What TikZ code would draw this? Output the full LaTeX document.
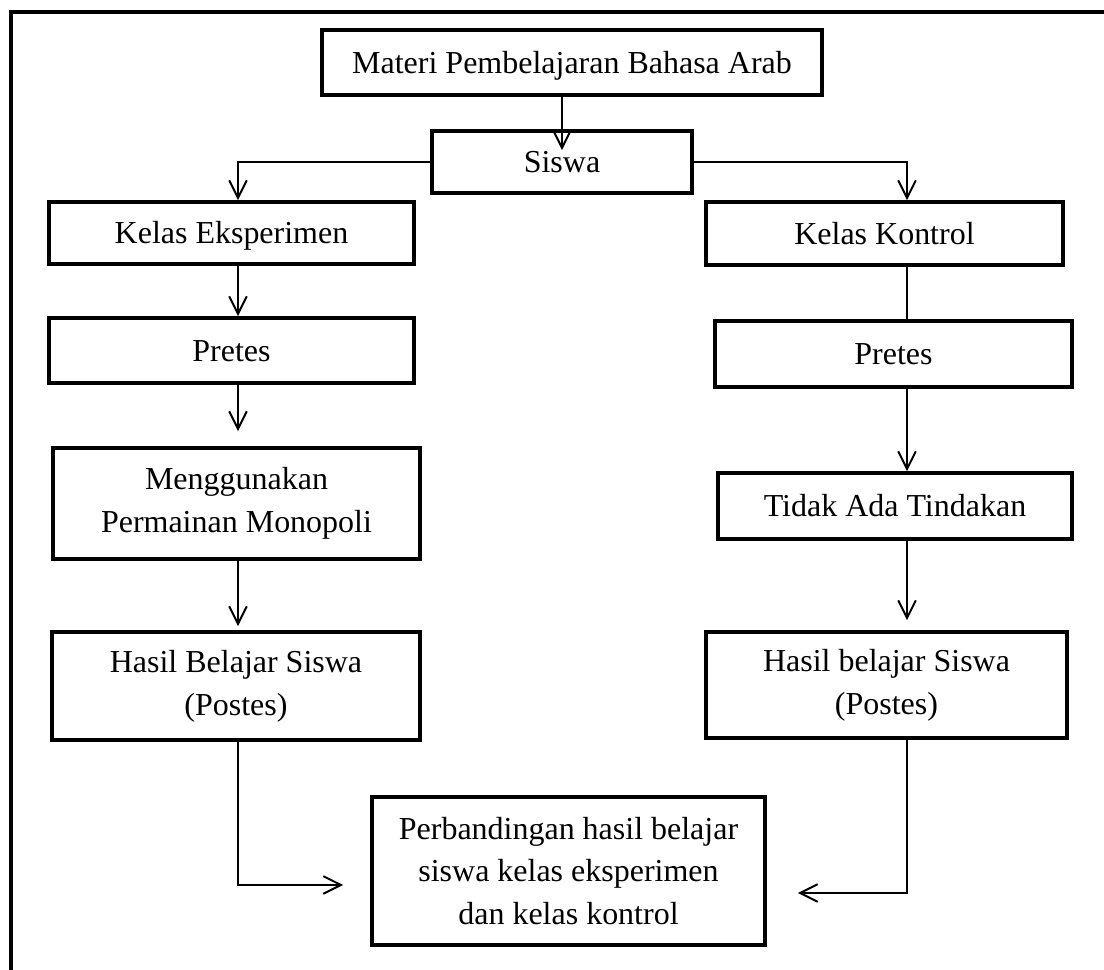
\documentclass[tikz,border=0pt]{standalone}
\usepackage{fontspec}
\setmainfont{Liberation Serif}
\usetikzlibrary{arrows.meta,calc,positioning}

\tikzset{
  kotak/.style={draw, line width=2.2pt, align=center, inner sep=0pt,
    font=\fontsize{18.2}{24.3}\selectfont},
  satu/.style={kotak, text height=12pt, text depth=0pt},
  garis/.style={line width=1.1pt},
  panah/.style={garis, -{Straight Barb[length=10pt,width=10pt,line width=1.1pt]}},
}

\begin{document}
\begin{tikzpicture}

       \useasboundingbox (0,0) rectangle (22.08,19.4);

       % bingkai luar
       \draw[line width=2.6pt] (22.4,19.16) -- (0.22,19.16) -- (0.22,-0.3);

       % jalur kiri dan kanan
       \coordinate (jalurKiri)  at ( 4.76, 0);
       \coordinate (jalurKanan) at (18.14, 0);

       % kotak-kotak
       \node[satu, minimum width=10cm,   minimum height=1.3cm]  (materi)     at (11.44,18.15) {Materi Pembelajaran Bahasa Arab};
       \node[satu, minimum width=5.2cm,  minimum height=1.24cm] (siswa)      at (11.24,16.16) {Siswa};
       \node[satu, minimum width=7.3cm,  minimum height=1.24cm] (eksperimen) at ( 4.63,14.74) {Kelas Eksperimen};
       \node[satu, minimum width=7.14cm, minimum height=1.26cm] (kontrol)    at (17.69,14.73) {Kelas Kontrol};
       \node[satu, minimum width=7.3cm,  minimum height=1.3cm]  (pretesA)    at ( 4.63,12.39) {Pretes};
       \node[satu, minimum width=7.14cm, minimum height=1.32cm] (pretesB)    at (17.87,12.32) {Pretes};
       \node[kotak, minimum width=7.34cm, minimum height=2.22cm] (monopoli)  at ( 4.73, 9.33) {Menggunakan\\Permainan Monopoli};
       \node[satu, minimum width=7.08cm, minimum height=1.32cm] (tindakan)   at (17.90, 9.28) {Tidak Ada Tindakan};
       \node[kotak, minimum width=7.36cm, minimum height=2.16cm] (hasilA)    at ( 4.72, 5.68) {Hasil Belajar Siswa\\(Postes)};
       \node[kotak, minimum width=7.22cm, minimum height=2.12cm] (hasilB)    at (17.73, 5.70) {Hasil belajar Siswa\\(Postes)};
       \node[kotak, minimum width=7.86cm, minimum height=2.96cm] (banding)   at (11.37, 1.98) {Perbandingan hasil belajar\\siswa kelas eksperimen\\dan kelas kontrol};

       % titik masuk ke kotak perbandingan
       \coordinate (masukKiri)  at ($(banding.west)+(0,-0.28)$);
       \coordinate (masukKanan) at ($(banding.east)+(0,-0.44)$);

       % penghubung
       \draw[panah] (materi.south -| siswa.north) -- ($(siswa.north)+(0,-0.42)$);
       \draw[panah] (siswa.west) -| (eksperimen.north -| jalurKiri);
       \draw[panah] (siswa.east) -| (kontrol.north -| jalurKanan);

       \draw[panah] (eksperimen.south -| jalurKiri) -- (pretesA.north -| jalurKiri);
       \draw[panah, shorten >=0.3cm] (pretesA.south -| jalurKiri) -- (monopoli.north -| jalurKiri);
       \draw[panah, shorten >=0.08cm] (monopoli.south -| jalurKiri) -- (hasilA.north -| jalurKiri);
       \draw[panah, shorten >=0.54cm] (hasilA.south -| jalurKiri) |- (masukKiri);

       \draw[garis] (kontrol.south -| jalurKanan) -- (pretesB.north -| jalurKanan);
       \draw[panah] (pretesB.south -| jalurKanan) -- (tindakan.north -| jalurKanan);
       \draw[panah, shorten >=0.2cm] (tindakan.south -| jalurKanan) -- (hasilB.north -| jalurKanan);
       \draw[panah, shorten >=0.62cm] (hasilB.south -| jalurKanan) |- (masukKanan);

\end{tikzpicture}
\end{document}
